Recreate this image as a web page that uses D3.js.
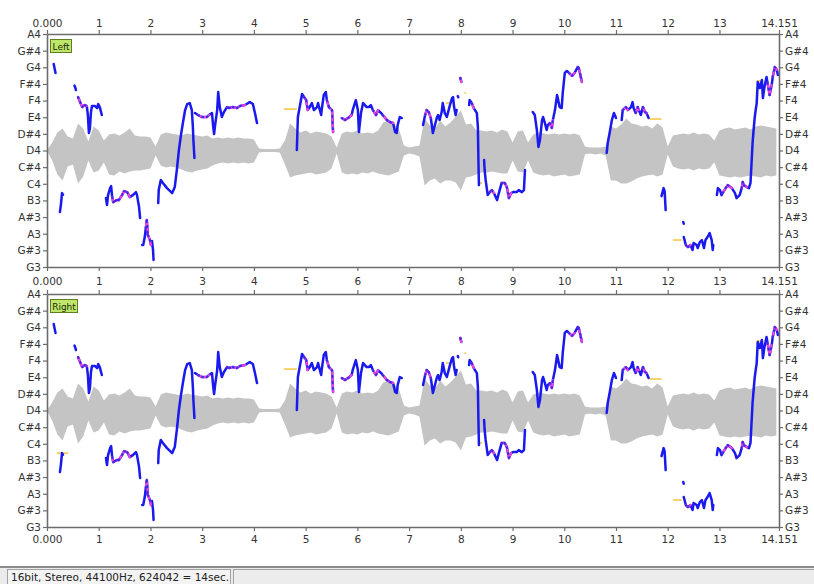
<!DOCTYPE html>
<html>
<head>
<meta charset="utf-8">
<script src="https://cdn.jsdelivr.net/npm/d3@7"></script>
<style>
  body { margin: 0; background: #fff; }
  svg { display: block; font-family: "DejaVu Sans", sans-serif; }
</style>
</head>
<body>
<div id="chart"></div>
<script>
// time axis (seconds) and note axis
const duration = 14.151;
const xTicks = [0, 1, 2, 3, 4, 5, 6, 7, 8, 9, 10, 11, 12, 13, 14.151];
const noteNames = ["G3","G#3","A3","A#3","B3","C4","C#4","D4","D#4","E4","F4","F#4","G4","G#4","A4"];
const noteMidi = [55, 56, 57, 58, 59, 60, 61, 62, 63, 64, 65, 66, 67, 68, 69];
const channels = ["Left", "Right"];
const statusText = "16bit, Stereo, 44100Hz, 624042 = 14sec.";

// waveform envelope, % of full scale, one value every 0.1 s
const waveStep = 0.1;
const waveUpper = [
  0,16,36,44,28,24,54,44,18,48, 40,20,32,34,30,36,44,30,28,28,
  26,8,32,36,34,32,30,34,32,30, 28,30,24,26,24,26,24,26,24,24,
  22,4,3,3,3,4,20,54,44,36, 40,34,38,36,34,28,6,34,38,36,
  40,34,36,34,40,56,60,54,44,10, 6,8,10,64,50,44,60,48,56,68,
  80,52,54,40,40,38,40,36,42,38, 16,38,40,16,32,36,34,32,34,32,
  34,32,34,30,8,6,6,6,8,48, 44,52,64,54,52,48,50,44,54,46,
  8,30,32,34,32,36,32,34,32,20, 40,44,46,42,44,46,42,48,50,48,
  46,44
];
const waveLower = [
  0,20,48,60,32,28,66,52,20,44, 40,24,48,50,42,46,42,40,40,38,
  36,10,30,34,32,34,38,42,44,40, 38,36,30,26,24,26,24,26,24,26,
  24,4,3,3,3,4,28,54,50,48, 46,44,48,46,44,36,6,44,48,46,
  48,44,46,42,46,48,50,46,42,10, 6,8,12,70,60,56,66,60,60,64,
  80,54,52,48,44,44,42,44,46,46, 20,42,44,20,44,48,50,48,52,50,
  48,52,50,48,8,6,8,6,10,60, 60,66,66,62,56,52,50,48,52,48,
  8,32,36,38,36,40,36,38,36,24, 50,52,54,52,54,52,50,52,54,50,
  52,50
];

// pitch contours: [time s, pitch in semitones (midi)]
const contours = [
  [[0.13,67.20],[0.145,66.96],[0.165,66.66]],
  [[0.25,58.30],[0.27,58.78],[0.29,59.44],[0.31,59.35]],
  [[0.53,65.90],[0.55,65.75],[0.56,65.63]],
  [[0.60,65.21],[0.64,64.91],[0.68,64.61],[0.73,64.73],[0.77,64.67],[0.79,64.13],[0.81,63.05],[0.83,63.35],[0.85,64.31],[0.87,64.67],[0.93,64.67],[0.97,64.55],[0.99,64.79],[1.02,64.61],[1.06,64.13]],
  [[1.14,59.14],[1.16,58.72],[1.18,59.32],[1.22,59.74],[1.24,59.86],[1.26,59.20],[1.28,58.90],[1.31,58.96],[1.35,59.02],[1.39,59.02],[1.45,59.32],[1.49,59.56],[1.55,59.50],[1.60,59.20],[1.66,59.32],[1.72,59.50],[1.74,59.32],[1.78,58.60],[1.80,57.94]],
  [[1.84,56.32],[1.86,56.32],[1.89,56.80],[1.91,57.34],[1.93,57.82],[1.95,56.92],[1.99,56.62],[2.01,56.32],[2.03,56.56],[2.05,56.02],[2.06,55.42]],
  [[2.15,58.84],[2.16,59.62],[2.20,60.23],[2.24,60.05],[2.32,59.74],[2.42,59.44],[2.47,59.80],[2.51,60.83],[2.55,62.03],[2.59,62.93],[2.63,63.71],[2.67,64.43],[2.71,64.79],[2.76,64.85],[2.80,64.43],[2.82,63.41],[2.83,62.63],[2.85,61.55]],
  [[2.86,64.25],[2.92,64.13],[3.00,64.01],[3.09,64.01],[3.13,64.13],[3.19,64.25],[3.21,63.53],[3.23,62.99],[3.25,63.53],[3.29,64.43],[3.31,65.51],[3.34,64.61],[3.38,64.01],[3.42,64.31],[3.48,64.61],[3.52,64.55],[3.59,64.61],[3.67,64.55],[3.73,64.67],[3.83,64.73],[3.92,64.91],[3.98,64.79],[4.02,64.25],[4.06,63.65]],
  [[4.83,62.03],[4.84,63.05],[4.85,64.01],[4.91,65.03],[4.93,65.39],[4.97,65.21],[5.01,65.03],[5.04,64.43],[5.08,64.61],[5.12,64.85],[5.16,64.43],[5.22,64.61],[5.24,64.85],[5.30,64.13],[5.31,64.43],[5.35,65.33],[5.39,65.51],[5.41,65.03],[5.45,64.61],[5.51,64.43],[5.53,63.11]],
  [[5.70,63.95],[5.76,63.83],[5.82,63.95],[5.89,64.13],[5.91,64.43],[5.97,65.03],[6.01,64.43],[6.03,63.11],[6.07,64.25],[6.11,64.85],[6.18,64.61],[6.22,64.61],[6.26,64.73],[6.30,64.43],[6.36,64.13],[6.40,64.43],[6.46,64.25],[6.49,64.13],[6.57,63.83],[6.63,63.71],[6.69,63.65],[6.73,63.11],[6.76,63.05],[6.78,63.53],[6.82,64.01],[6.86,63.95]],
  [[7.27,63.53],[7.31,64.13],[7.34,64.43],[7.38,64.31],[7.42,63.95],[7.46,63.05],[7.50,63.53],[7.54,64.01],[7.56,64.13],[7.59,63.83],[7.63,64.31],[7.65,64.85],[7.69,64.25],[7.73,64.01],[7.79,64.73],[7.83,65.15],[7.85,65.21],[7.87,64.61],[7.90,64.13],[7.92,64.43]],
  [[7.94,65.27],[7.95,65.20]],
  [[7.99,66.36],[8.01,66.12]],
  [[8.16,64.73],[8.17,65.03],[8.21,64.85],[8.25,64.55],[8.31,64.25],[8.33,63.41],[8.34,61.43],[8.35,59.92]],
  [[8.45,61.43],[8.46,60.83],[8.48,60.23],[8.52,59.32],[8.56,59.50],[8.60,59.62],[8.64,59.44],[8.70,59.02],[8.74,59.50],[8.79,60.05],[8.85,60.05],[8.89,59.80],[8.93,59.14],[8.97,59.44],[9.01,59.50],[9.08,59.50],[9.12,59.62],[9.18,59.50],[9.22,59.62],[9.24,60.83]],
  [[9.39,64.31],[9.43,64.13],[9.47,63.23],[9.50,62.21],[9.53,62.63],[9.57,63.83],[9.59,64.01],[9.62,63.71],[9.66,63.23],[9.68,63.53],[9.72,63.65],[9.76,63.35],[9.78,63.83],[9.82,64.43],[9.86,65.33],[9.87,65.21],[9.91,64.61],[9.95,64.55],[9.97,65.45],[10.01,66.66],[10.05,66.78],[10.09,66.66],[10.15,66.48],[10.20,66.66],[10.26,67.02],[10.28,66.96],[10.32,66.42],[10.34,66.12]],
  [[10.82,61.85],[10.84,62.45],[10.88,63.11],[10.92,63.83],[10.96,64.25],[11.00,63.95]],
  [[11.11,63.83],[11.13,64.43],[11.19,64.61],[11.23,64.43],[11.29,64.61],[11.32,64.91],[11.34,64.55],[11.38,64.25],[11.42,64.61],[11.44,64.43],[11.48,64.13],[11.52,64.61],[11.56,64.31],[11.59,64.25],[11.63,63.95]],
  [[11.88,59.26],[11.92,59.74],[11.94,59.56],[11.96,58.42]],
  [[12.30,57.70],[12.31,57.60]],
  [[12.31,56.80],[12.35,56.32],[12.39,56.20],[12.44,56.32],[12.48,56.02],[12.50,56.44],[12.56,56.32],[12.58,56.14],[12.62,56.50],[12.66,56.62],[12.70,56.14],[12.73,56.62],[12.77,56.80],[12.81,57.04],[12.85,56.62],[12.87,56.02],[12.88,56.32]],
  [[12.95,59.32],[12.97,59.74],[13.01,59.62],[13.04,59.32],[13.06,59.44],[13.12,59.74],[13.16,59.92],[13.24,59.74],[13.30,59.44],[13.33,59.14],[13.39,59.32],[13.43,59.74],[13.45,60.11],[13.47,59.92],[13.53,59.80],[13.57,59.74],[13.60,60.05],[13.62,61.25],[13.64,62.45],[13.66,63.23],[13.68,63.95],[13.70,64.43],[13.72,64.85],[13.74,66.12],[13.78,65.75],[13.82,66.24],[13.84,65.15],[13.87,65.81],[13.91,66.42],[13.93,66.06],[13.97,65.33],[14.01,65.93],[14.03,66.42],[14.07,67.02],[14.11,66.84],[14.13,66.54]]
];

// time ranges where the contour is drawn magenta
const magentaSpans = [
  [0.58,0.75],[1.27,1.61],[1.92,2.00],[2.96,3.15],[3.47,3.86],[4.98,5.05],[5.41,5.53],
  [5.69,5.86],[6.33,6.41],[6.50,6.70],[7.32,7.40],[7.98,8.02],[8.22,8.28],[8.58,8.63],
  [8.81,8.95],[9.73,9.78],[10.10,10.18],[10.24,10.33],[11.15,11.24],[11.37,11.45],
  [11.52,11.60],[12.34,12.42],[13.07,13.25],[13.44,13.52],[13.95,14.00],[14.04,14.12]
];

// short amber marks: [start s, end s, midi]
const amberLeft = [[4.58,4.83,64.49],[7.71,7.79,64.85],[8.07,8.10,65.45],[8.33,8.41,60.05],[11.65,11.88,63.89],[12.10,12.27,56.62],[13.72,13.82,66.18]];
const amberRight = [[0.19,0.41,59.44],[4.58,4.83,64.49],[7.71,7.79,64.85],[8.07,8.10,65.45],[8.33,8.41,60.05],[11.65,11.88,63.89],[12.10,12.27,56.62],[13.72,13.82,66.18]];

const width = 814, height = 584;
const left = 47, right = 779;
const frameColor = "#6c6c6c";

const svg = d3.select("#chart").append("svg")
  .attr("width", width)
  .attr("height", height);

const x = d3.scaleLinear().domain([0, duration]).range([left, right]);
const waveScale = d3.scaleLinear().domain([0, 100]).range([0, 50]);
const waveT = waveUpper.map((d, i) => i * waveStep);

const fmtTime = d => d === 0 ? "0.000" : (Number.isInteger(d) ? String(d) : d.toFixed(3));
const noteLabel = d => noteNames[noteMidi.indexOf(d)];

function styleAxis(g) {
  g.attr("font-family", "DejaVu Sans, sans-serif").attr("font-size", 10.5);
  g.select(".domain").attr("stroke", frameColor).attr("stroke-width", 1.6);
  g.selectAll(".tick line").attr("stroke", frameColor).attr("stroke-width", 1.2);
  g.selectAll(".tick text").attr("fill", "#333");
}

const panels = [
  { name: channels[0], top: 34, bottom: 267, amber: amberLeft, topLabels: true, bottomPad: 7 },
  { name: channels[1], top: 294, bottom: 527, amber: amberRight, topLabels: false, bottomPad: 5 }
];

// which contour pieces are magenta
const inMagenta = t => magentaSpans.some(s => t >= s[0] && t <= s[1]);
const pinkPairs = [];
contours.forEach(c => {
  for (let i = 0; i < c.length - 1; i++) {
    if (inMagenta((c[i][0] + c[i + 1][0]) / 2)) pinkPairs.push([c[i], c[i + 1]]);
  }
});

panels.forEach((p, pi) => {
  const y = d3.scaleLinear().domain([55, 69]).range([p.bottom, p.top]);
  const g = svg.append("g");

  g.append("clipPath").attr("id", "clip" + pi)
    .append("rect")
    .attr("x", left).attr("y", p.top)
    .attr("width", right - left).attr("height", p.bottom - p.top);

  const plot = g.append("g").attr("clip-path", `url(#clip${pi})`);

  // waveform around D4
  const mid = y(62);
  const area = d3.area()
    .x((d, i) => x(waveT[i]))
    .y0((d, i) => mid + waveScale(waveLower[i]))
    .y1((d, i) => mid - waveScale(waveUpper[i]));
  plot.append("path")
    .datum(waveUpper)
    .attr("d", area)
    .attr("fill", "#c4c4c4");

  // amber marks
  plot.selectAll(".amber")
    .data(p.amber)
    .enter()
    .append("line")
    .attr("x1", d => x(d[0]))
    .attr("x2", d => x(d[1]))
    .attr("y1", d => y(d[2]))
    .attr("y2", d => y(d[2]))
    .attr("stroke", "#f6c84a")
    .attr("stroke-width", 1.6);

  // pitch contours
  const line = d3.line().x(d => x(d[0])).y(d => y(d[1]));
  plot.selectAll(".contour")
    .data(contours)
    .enter()
    .append("path")
    .attr("d", line)
    .attr("fill", "none")
    .attr("stroke", "#1a1aee")
    .attr("stroke-width", 2.5)
    .attr("stroke-linejoin", "round")
    .attr("stroke-linecap", "round");

  // magenta pieces, speckled with blue points
  plot.selectAll(".pink")
    .data(pinkPairs)
    .enter()
    .append("path")
    .attr("d", line)
    .attr("fill", "none")
    .attr("stroke", "#ee44dd")
    .attr("stroke-width", 2.2)
    .attr("stroke-linecap", "round");
  plot.selectAll(".pinkdots")
    .data(pinkPairs)
    .enter()
    .append("path")
    .attr("d", line)
    .attr("fill", "none")
    .attr("stroke", "#3a2ae8")
    .attr("stroke-width", 2)
    .attr("stroke-dasharray", "1,5")
    .attr("stroke-linecap", "round");

  // axes
  g.append("g")
    .attr("transform", `translate(0,${p.top})`)
    .call(d3.axisTop(x).tickValues(xTicks).tickSize(4).tickSizeOuter(0).tickPadding(3)
      .tickFormat(p.topLabels ? fmtTime : () => ""))
    .call(styleAxis);

  g.append("g")
    .attr("transform", `translate(0,${p.bottom})`)
    .call(d3.axisBottom(x).tickValues(xTicks).tickSize(4).tickSizeOuter(0).tickPadding(p.bottomPad)
      .tickFormat(fmtTime))
    .call(styleAxis);

  g.append("g")
    .attr("transform", `translate(${left},0)`)
    .call(d3.axisLeft(y).tickValues(noteMidi).tickSize(4).tickSizeOuter(0).tickPadding(2).tickFormat(noteLabel))
    .call(styleAxis);

  g.append("g")
    .attr("transform", `translate(${right},0)`)
    .call(d3.axisRight(y).tickValues(noteMidi).tickSize(4).tickSizeOuter(0).tickPadding(2).tickFormat(noteLabel))
    .call(styleAxis);

  // channel tag
  const tagW = p.name === "Left" ? 21 : 27;
  g.append("rect")
    .attr("x", left + 3.5).attr("y", p.top + 5.5)
    .attr("width", tagW).attr("height", 13)
    .attr("fill", "#bde66a")
    .attr("stroke", "#5f7d22");
  g.append("text")
    .attr("x", left + 3.5 + tagW / 2).attr("y", p.top + 15.5)
    .attr("text-anchor", "middle")
    .attr("font-size", 9)
    .attr("fill", "#1d2a08")
    .text(p.name);
});

// status bar
svg.append("rect").attr("x", 0).attr("y", 567).attr("width", width).attr("height", 17).attr("fill", "#ebebeb");
svg.append("line").attr("x1", 0).attr("x2", width).attr("y1", 567).attr("y2", 567)
  .attr("stroke", "#8c8c8c").attr("stroke-width", 2);
svg.append("rect").attr("x", 7.5).attr("y", 569.5).attr("width", 223).attr("height", 16)
  .attr("fill", "#f3f3f3").attr("stroke", "#a2a2a2");
svg.append("rect").attr("x", 233.5).attr("y", 569.5).attr("width", 582).attr("height", 16)
  .attr("fill", "#ececec").attr("stroke", "#a2a2a2");
svg.append("text").attr("x", 11).attr("y", 581)
  .attr("font-size", 10.5).attr("fill", "#222")
  .text(statusText);
</script>
</body>
</html>
